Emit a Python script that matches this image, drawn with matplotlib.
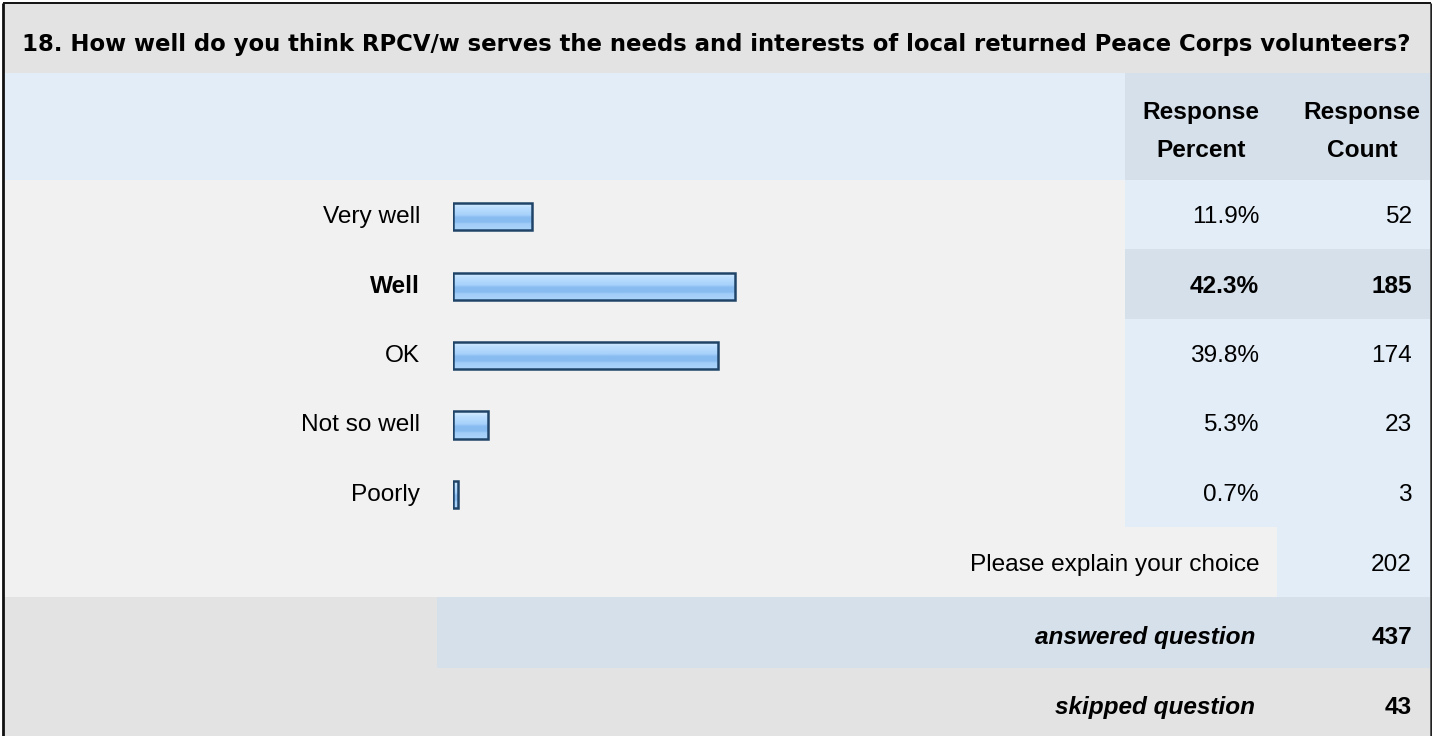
import numpy as np
import matplotlib.pyplot as plt
from matplotlib.patches import Rectangle
from matplotlib.colors import LinearSegmentedColormap

plt.rcParams['font.family'] = ['Liberation Sans', 'DejaVu Sans']

# Survey data
question = "18. How well do you think RPCV/w serves the needs and interests of local returned Peace Corps volunteers?"
answers = ['Very well', 'Well', 'OK', 'Not so well', 'Poorly']
percents = [11.9, 42.3, 39.8, 5.3, 0.7]
counts = [52, 185, 174, 23, 3]
explain_count = 202
answered = 437
skipped = 43
top_answer = 'Well'

W, H = 1432, 736
fig = plt.figure(figsize=(W / 100, H / 100), dpi=100)

# Background table drawn in pixel coordinates
ax = fig.add_axes([0, 0, 1, 1])
ax.set_xlim(0, W)
ax.set_ylim(H, 0)
ax.axis('off')

def cell(x0, y0, x1, y1, color):
    ax.add_patch(Rectangle((x0, y0), x1 - x0, y1 - y0, facecolor=color, edgecolor='none', zorder=0))

grey = '#e3e3e3'
body = '#f1f1f1'
light_blue = '#e3edf7'
dark_blue = '#d6e0ea'

row_top = 180
row_h = 69.4
pct_x0, cnt_x0, right = 1125, 1277, 1430

cell(0, 0, W, H, 'white')
cell(3, 3, right, 73, grey)
cell(3, 73, pct_x0, row_top, light_blue)
cell(pct_x0, 73, right, row_top, dark_blue)
cell(3, row_top, right, 597, body)
for i, a in enumerate(answers):
    y0 = row_top + i * row_h
    c = dark_blue if a == top_answer else light_blue
    cell(pct_x0, y0, right, y0 + row_h, c)
cell(cnt_x0, 527, right, 597, light_blue)
cell(3, 597, 437, 668, grey)
cell(437, 597, right, 668, dark_blue)
cell(3, 668, right, H, grey)

# Outer border
ax.plot([3.3, 3.3], [H, 2.5], color='#111111', lw=2.0, zorder=5, solid_capstyle='butt')
ax.plot([2.5, right + 1], [2.5, 2.5], color='#111111', lw=1.4, zorder=5, solid_capstyle='butt')
ax.plot([right + 1, right + 1], [2.5, H], color='#222222', lw=1.8, zorder=5, solid_capstyle='butt')

fs = 17.6
ax.text(22, 51, question, fontsize=16.4, fontweight='bold', va='baseline', ha='left',
        family=['DejaVu Sans'])
ax.text(1201, 119, 'Response', fontsize=fs, fontweight='bold', va='baseline', ha='center')
ax.text(1201, 157, 'Percent', fontsize=fs, fontweight='bold', va='baseline', ha='center')
ax.text(1362, 119, 'Response', fontsize=fs, fontweight='bold', va='baseline', ha='center')
ax.text(1362, 157, 'Count', fontsize=fs, fontweight='bold', va='baseline', ha='center')

for i, (a, p, c) in enumerate(zip(answers, percents, counts)):
    yb = row_top + (i + 0.5) * row_h + 8.5
    w = 'bold' if a == top_answer else 'normal'
    ax.text(420, yb, a, fontsize=fs, fontweight=w, va='baseline', ha='right')
    ax.text(1259, yb, f'{p:.1f}%', fontsize=fs, fontweight=w, va='baseline', ha='right')
    ax.text(1412, yb, str(c), fontsize=fs, fontweight=w, va='baseline', ha='right')

ax.text(1259, 571, 'Please explain your choice', fontsize=fs, va='baseline', ha='right')
ax.text(1412, 571, str(explain_count), fontsize=fs, va='baseline', ha='right')
ax.text(1255, 644, 'answered question', fontsize=fs, fontweight='bold', style='italic', va='baseline', ha='right')
ax.text(1412, 644, str(answered), fontsize=fs, fontweight='bold', va='baseline', ha='right')
ax.text(1255, 714, 'skipped question', fontsize=fs, fontweight='bold', style='italic', va='baseline', ha='right')
ax.text(1412, 714, str(skipped), fontsize=fs, fontweight='bold', va='baseline', ha='right')

# Bar area: 0-100% spans the space between labels and percent column
bx0, bx1 = 453, 1120
bax = fig.add_axes([bx0 / W, 1 - (row_top + 5 * row_h) / H, (bx1 - bx0) / W, 5 * row_h / H])
bax.axis('off')

ypos = np.arange(len(answers)) + 0.03
bars = bax.barh(ypos, percents, height=0.39, left=0, facecolor='none',
                edgecolor='#1f4468', linewidth=1.8, zorder=3)

# glossy vertical gradient inside each bar
grad_cmap = LinearSegmentedColormap.from_list('gloss', [
    (0.0, '#dcefff'), (0.2, '#bbdeff'), (0.45, '#a8d2fb'),
    (0.55, '#88bcf0'), (0.72, '#88bcf0'), (0.78, '#a0ccf8'), (1.0, '#acd4fb')])
grad = np.linspace(0, 1, 64).reshape(-1, 1)
for b in bars:
    x, y = b.get_x(), b.get_y()
    im = bax.imshow(grad, cmap=grad_cmap, aspect='auto', zorder=2,
                    extent=(x, x + b.get_width(), y + b.get_height(), y), interpolation='bilinear')
    im.set_clip_path(b)

bax.set_xlim(0, 100)
bax.set_ylim(len(answers) - 0.5, -0.5)

fig.savefig('out.png', dpi=100)
